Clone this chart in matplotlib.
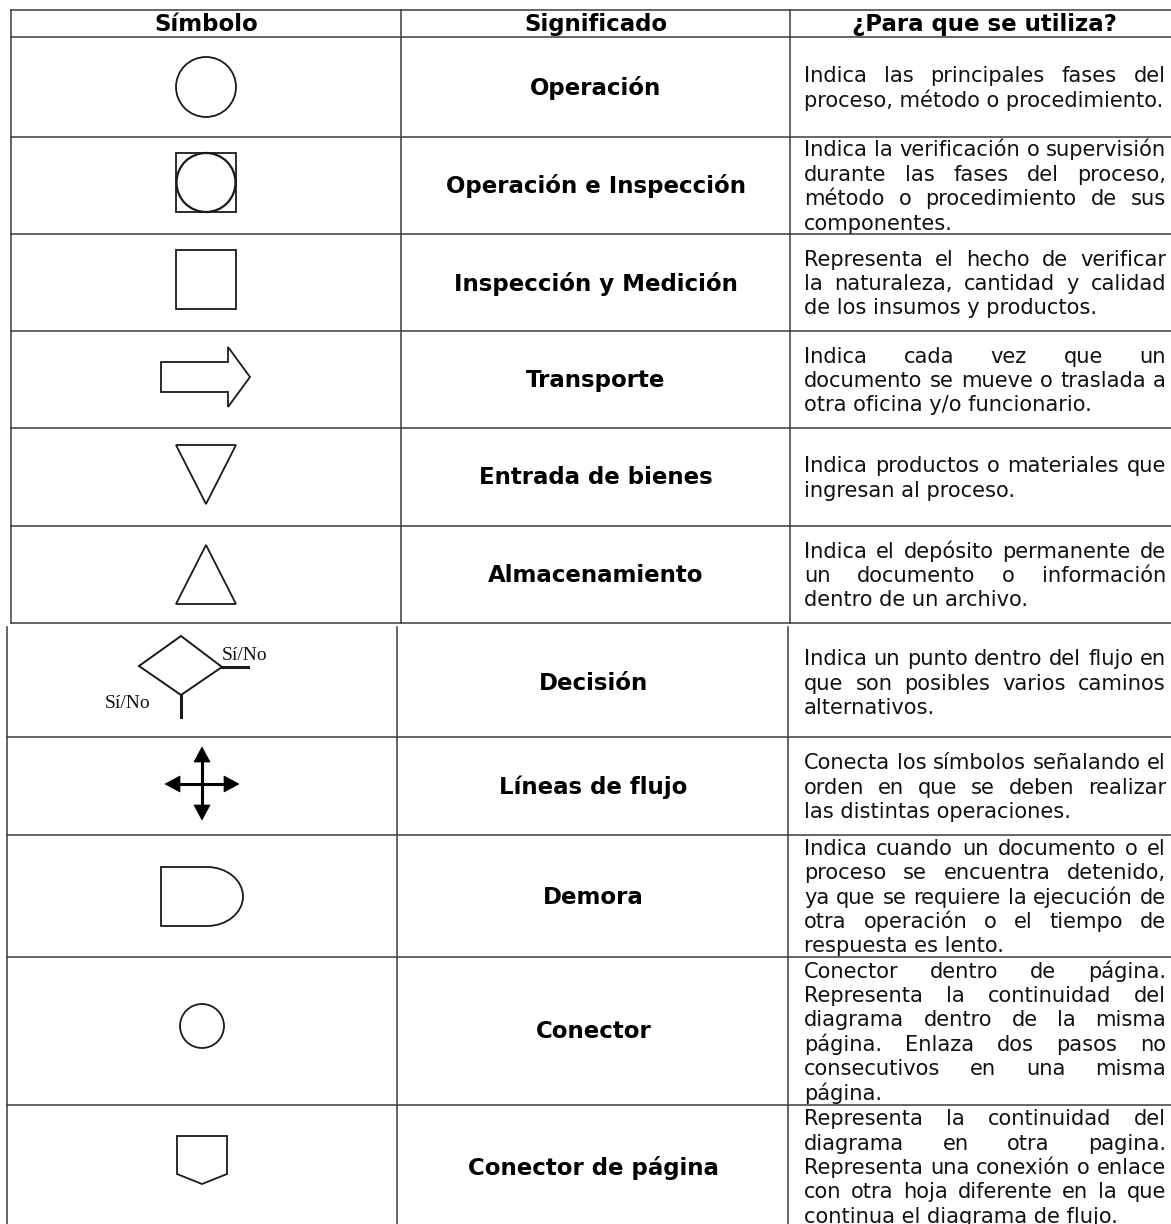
import matplotlib
matplotlib.use("Agg")
import matplotlib.pyplot as plt
from matplotlib.patches import Circle, Rectangle, Polygon, PathPatch
from matplotlib.path import Path

W, H, DPI = 1171, 1224, 100

# ---------------- data ----------------
headers = ["Símbolo", "Significado", "¿Para que se utiliza?"]
symbols = ["circle", "circle_square", "square", "arrow", "tri_down", "tri_up",
           "diamond", "cross", "delay", "connector", "offpage"]
meanings = ["Operación", "Operación e Inspección", "Inspección y Medición",
            "Transporte", "Entrada de bienes", "Almacenamiento", "Decisión",
            "Líneas de flujo", "Demora", "Conector", "Conector de página"]
descriptions = [
    ["Indica las principales fases del", "proceso, método o procedimiento."],
    ["Indica la verificación o supervisión", "durante las fases del proceso,",
     "método o procedimiento de sus", "componentes."],
    ["Representa el hecho de verificar", "la naturaleza, cantidad y calidad",
     "de los insumos y productos."],
    ["Indica cada vez que un", "documento se mueve o traslada a",
     "otra oficina y/o funcionario."],
    ["Indica productos o materiales que", "ingresan al proceso."],
    ["Indica el depósito permanente de", "un documento o información",
     "dentro de un archivo."],
    ["Indica un punto dentro del flujo en", "que son posibles varios caminos",
     "alternativos."],
    ["Conecta los símbolos señalando el", "orden en que se deben realizar",
     "las distintas operaciones."],
    ["Indica cuando un documento o el", "proceso se encuentra detenido,",
     "ya que se requiere la ejecución de", "otra operación o el tiempo de",
     "respuesta es lento."],
    ["Conector dentro de página.", "Representa la continuidad del",
     "diagrama dentro de la misma", "página. Enlaza dos pasos no",
     "consecutivos en una misma", "página."],
    ["Representa la continuidad del", "diagrama en otra pagina.",
     "Representa una conexión o enlace", "con otra hoja diferente en la que",
     "continua el diagrama de flujo."],
]
decision_label = "Sí/No"

# ---------------- layout ----------------
upper_edges = [37, 137, 234, 331, 428, 526, 623]
lower_edges = [627, 737, 835, 957, 1105, 1228]
upper_cols = [11, 401, 790]
lower_cols = [7, 397, 788]
top_y = 10

LINE_C = "#3a3a3a"
SHAPE_C = "#1a1a1a"
TXT_C = "#111111"
LW = 1.1

fig = plt.figure(figsize=(W / DPI, H / DPI), dpi=DPI)
ax = fig.add_axes([0, 0, 1, 1])
ax.set_xlim(0, W)
ax.set_ylim(H, 0)
ax.axis("off")

# grid lines
ax.plot([upper_cols[0], W], [top_y, top_y], color=LINE_C, lw=LW)
for y in upper_edges:
    ax.plot([upper_cols[0], W], [y, y], color=LINE_C, lw=LW)
for x in upper_cols:
    ax.plot([x, x], [top_y, upper_edges[-1]], color=LINE_C, lw=LW)
for y in lower_edges[1:]:
    ax.plot([lower_cols[0], W], [y, y], color=LINE_C, lw=LW)
for x in lower_cols:
    ax.plot([x, x], [lower_edges[0], H], color=LINE_C, lw=LW)

# rows: (top, bottom, cols)
rows = []
for i in range(len(upper_edges) - 1):
    rows.append((upper_edges[i], upper_edges[i + 1], upper_cols))
for i in range(len(lower_edges) - 1):
    rows.append((lower_edges[i], lower_edges[i + 1], lower_cols))

BOLD = dict(family="DejaVu Sans", fontweight="bold", fontsize=16.5, color="black")

# header
hy = (top_y + upper_edges[0]) / 2 + 1
hx = [(upper_cols[0] + upper_cols[1]) / 2, (upper_cols[1] + upper_cols[2]) / 2,
      (upper_cols[2] + W) / 2 + 4]
for x, h in zip(hx, headers):
    ax.text(x, hy, h, ha="center", va="center", **BOLD)

renderer = fig.canvas.get_renderer()
DESC = dict(family="DejaVu Sans", fontsize=15.1, color=TXT_C)


def width_of(s):
    t = ax.text(0, 0, s, **DESC)
    w = t.get_window_extent(renderer).width
    t.remove()
    return w


L_X, R_X = 804, 1166
LINE_H = 24.4


def draw_desc(lines, yc):
    n = len(lines)
    for i, line in enumerate(lines):
        y = yc + (i - (n - 1) / 2) * LINE_H + 7.5
        words = line.split()
        if i == n - 1 or len(words) == 1:
            ax.text(L_X, y, line, ha="left", va="baseline", **DESC)
            continue
        ws = [width_of(w) for w in words]
        gap = (R_X - L_X - sum(ws)) / (len(words) - 1)
        x = L_X
        for w, wd in zip(words, ws):
            ax.text(x, y, w, ha="left", va="baseline", **DESC)
            x += wd + gap


def poly(pts, lw=1.3):
    ax.add_patch(Polygon(pts, closed=True, fill=False, ec=SHAPE_C, lw=lw,
                         joinstyle="miter"))


def draw_symbol(kind, cx, cy):
    if kind == "circle":
        ax.add_patch(Circle((cx, cy), 30, fill=False, ec=SHAPE_C, lw=1.3))
    elif kind == "circle_square":
        ax.add_patch(Rectangle((cx - 30, cy - 29.5), 60, 59, fill=False, ec=SHAPE_C, lw=1.3))
        ax.add_patch(Circle((cx, cy), 29.5, fill=False, ec=SHAPE_C, lw=1.6))
    elif kind == "square":
        ax.add_patch(Rectangle((cx - 30, cy - 29.5), 60, 59, fill=False, ec=SHAPE_C, lw=1.3))
    elif kind == "arrow":
        poly([(cx - 45, cy - 15), (cx + 22, cy - 15), (cx + 22, cy - 30), (cx + 44, cy),
              (cx + 22, cy + 30), (cx + 22, cy + 15), (cx - 45, cy + 15)])
    elif kind == "tri_down":
        poly([(cx - 30, cy - 29.5), (cx + 30, cy - 29.5), (cx, cy + 29.5)])
    elif kind == "tri_up":
        poly([(cx, cy - 29.5), (cx + 30, cy + 29.5), (cx - 30, cy + 29.5)])
    elif kind == "diamond":
        dx, dy = cx - 21, cy - 16
        poly([(dx, dy - 30), (dx + 41, dy + 1), (dx, dy + 29), (dx - 42, dy)], lw=1.4)
        ax.plot([dx + 41, dx + 67], [dy + 1, dy + 1], color=SHAPE_C, lw=2.2)
        ax.plot([dx, dx], [dy + 29, dy + 51], color=SHAPE_C, lw=2.2)
        SER = dict(family="Liberation Serif", fontsize=14, color=TXT_C)
        ax.text(dx + 41, dy - 11, decision_label, ha="left", va="center", **SER)
        ax.text(cx - 97, cy + 21, decision_label, ha="left", va="center", **SER)
    elif kind == "cross":
        cy2 = cy - 1
        ax.plot([cx, cx], [cy2 - 30, cy2 + 30], color="black", lw=2.2)
        ax.plot([cx - 30, cx + 30], [cy2, cy2], color="black", lw=2.2)
        hl, hw = 15, 8
        for (tx, ty, ux, uy) in [(cx, cy2 - 37, 0, 1), (cx, cy2 + 36, 0, -1),
                                 (cx - 37, cy2, 1, 0), (cx + 37, cy2, -1, 0)]:
            bx, by = tx + ux * hl, ty + uy * hl
            px, py = -uy, ux
            ax.add_patch(Polygon([(tx, ty), (bx + px * hw, by + py * hw),
                                  (bx - px * hw, by - py * hw)], closed=True,
                                 fc="black", ec="black", lw=0.5))
    elif kind == "delay":
        k = 0.5523
        x0, x1, xr = cx - 41, cx + 5, cx + 41
        yt, yb = cy - 29.5, cy + 29.5
        rx, ry = xr - x1, (yb - yt) / 2
        ym = cy
        verts = [(x0, yt), (x1, yt),
                 (x1 + rx * k, yt), (xr, ym - ry * k), (xr, ym),
                 (xr, ym + ry * k), (x1 + rx * k, yb), (x1, yb),
                 (x0, yb), (x0, yt)]
        codes = [Path.MOVETO, Path.LINETO,
                 Path.CURVE4, Path.CURVE4, Path.CURVE4,
                 Path.CURVE4, Path.CURVE4, Path.CURVE4,
                 Path.LINETO, Path.CLOSEPOLY]
        ax.add_patch(PathPatch(Path(verts, codes), fill=False, ec=SHAPE_C, lw=1.3))
    elif kind == "connector":
        ax.add_patch(Circle((cx, cy), 22, fill=False, ec=SHAPE_C, lw=1.3))
    elif kind == "offpage":
        poly([(cx - 25, cy - 24), (cx + 25, cy - 24), (cx + 25, cy + 14),
              (cx, cy + 24), (cx - 25, cy + 14)])


sym_offsets = [0, -3, -3, -2.5, -2.5, 0, 0, -1, 0.5, -5, -6.5]

for i, (top, bot, cols) in enumerate(rows):
    yc = (top + bot) / 2
    sx = 206 if cols is upper_cols else 202
    draw_symbol(symbols[i], sx, yc + sym_offsets[i])
    mx = (cols[1] + cols[2]) / 2 + (0 if cols is upper_cols else 1)
    ax.text(mx, yc + 1, meanings[i], ha="center", va="center", **BOLD)
    draw_desc(descriptions[i], yc)

fig.savefig("out.png", dpi=DPI, facecolor="white")
